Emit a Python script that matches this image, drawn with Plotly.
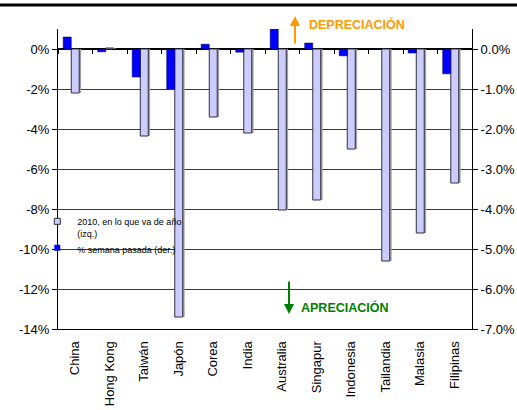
import plotly.graph_objects as go

# Asian currencies vs USD
countries = ["China", "Hong Kong", "Taiwán", "Japón", "Corea", "India",
             "Australia", "Singapur", "Indonesia", "Tailandia", "Malasia", "Filipinas"]
# 2010 year-to-date change, % (left axis)
ytd_2010 = [-2.2, 0.05, -4.35, -13.4, -3.4, -4.2, -8.05, -7.55, -5.0, -10.6, -9.2, -6.7]
# change over the last week, % (right axis)
last_week = [0.3, -0.07, -0.7, -1.0, 0.12, -0.08, 0.52, 0.15, -0.17, 0.0, -0.1, -0.62]

left_ticks = [0, -2, -4, -6, -8, -10, -12, -14]
left_text = [f"{v}%" for v in left_ticks]
right_ticks = [0.0, -1.0, -2.0, -3.0, -4.0, -5.0, -6.0, -7.0]
right_text = [f"{v:.1f}%" for v in right_ticks]

FONT = "Liberation Sans, Arial, sans-serif"
LIGHT = "#CCCCFF"
DARK = "#0000FF"

fig = go.Figure()

# soft shadow behind the YTD bars
fig.add_trace(go.Bar(
    x=countries, y=ytd_2010, yaxis="y", width=0.23, offset=-0.06,
    marker=dict(color="#A0A0A0", line=dict(width=0)),
    showlegend=False, hoverinfo="skip"))

fig.add_trace(go.Bar(
    x=countries, y=ytd_2010, yaxis="y", width=0.23, offset=-0.115,
    marker=dict(color=LIGHT, line=dict(color="#303040", width=1)),
    showlegend=False))

fig.add_trace(go.Bar(
    x=countries, y=last_week, yaxis="y2", width=0.235, offset=-0.35,
    marker=dict(color=DARK, line=dict(color="#000040", width=0.5)),
    showlegend=False))

# legend swatches
fig.add_trace(go.Scatter(
    x=[None], y=[None], mode="markers", name="2010, en lo que va de año<br>(izq.)",
    marker=dict(symbol="square", size=6, color=LIGHT, line=dict(color="#303040", width=1))))
fig.add_trace(go.Scatter(
    x=[None], y=[None], mode="markers", name="% semana pasada (der.)",
    marker=dict(symbol="square", size=6, color=DARK, line=dict(width=0))))

# boundary tick marks along the zero line
fig.add_trace(go.Scatter(
    x=countries, y=[None] * len(countries), xaxis="x2", yaxis="y",
    mode="markers", showlegend=False, hoverinfo="skip"))

zero_pos = (0 - (-14)) / (1 - (-14))

fig.update_layout(
    width=517, height=410,
    margin=dict(l=58, r=45, t=29, b=81, autoexpand=False),
    paper_bgcolor="white", plot_bgcolor="white",
    barmode="overlay",
    font=dict(family=FONT, size=13, color="black"),
    xaxis=dict(
        type="category", categoryarray=countries, range=[-0.5, 11.5],
        tickangle=-90, ticks="outside", ticklen=6, tickcolor="rgba(0,0,0,0)",
        showline=True, linecolor="black", linewidth=1, automargin=False,
        showgrid=False, zeroline=False, mirror=False,
        tickfont=dict(family=FONT, size=13)),
    xaxis2=dict(
        type="category", categoryarray=countries, range=[-0.5, 11.5],
        overlaying="x", anchor="free", position=zero_pos, automargin=False,
        showticklabels=False, ticks="outside", ticklen=4, tickcolor="black",
        tickson="boundaries", showline=False, showgrid=False, zeroline=False),
    yaxis=dict(
        range=[-14, 1], tickvals=left_ticks, ticktext=left_text,
        showline=True, linecolor="black", linewidth=1, automargin=False,
        ticks="outside", ticklen=5, tickcolor="black",
        showgrid=True, gridcolor="#3a3a3a", gridwidth=1,
        zeroline=True, zerolinecolor="black", zerolinewidth=1.5,
        tickfont=dict(family=FONT, size=13)),
    yaxis2=dict(
        range=[-7, 0.5], tickvals=right_ticks, ticktext=right_text,
        overlaying="y", side="right", anchor="x", automargin=False,
        showline=True, linecolor="black", linewidth=1,
        ticks="outside", ticklen=5, tickcolor="black",
        showgrid=False, zeroline=False,
        tickfont=dict(family=FONT, size=13)),
    legend=dict(
        x=-0.05, y=0.40, xanchor="left", yanchor="top",
        bgcolor="rgba(0,0,0,0)", borderwidth=0,
        font=dict(family=FONT, size=9), itemwidth=30,
        valign="top", tracegroupgap=0),
    showlegend=True,
)


def px_x(x):
    return (x - 58) / 414


def px_y(y):
    return (329 - y) / 300


# frame line across the top of the chart
fig.add_shape(type="line", xref="paper", yref="paper",
              x0=px_x(0), x1=px_x(517), y0=px_y(5), y1=px_y(5),
              line=dict(color="black", width=3))

# direction labels
fig.add_annotation(xref="paper", yref="paper", x=px_x(295), y=px_y(16),
                   ax=0, ay=29, axref="pixel", ayref="pixel",
                   text="", showarrow=True, arrowhead=2, arrowsize=1,
                   arrowwidth=2, arrowcolor="#FF9900")
fig.add_annotation(xref="paper", yref="paper", x=px_x(307), y=px_y(25),
                   xanchor="left", yanchor="middle", showarrow=False,
                   text="<b>DEPRECIACIÓN</b>",
                   font=dict(family=FONT, size=12.5, color="#FF9900"))
fig.add_annotation(xref="paper", yref="paper", x=px_x(289), y=px_y(314),
                   ax=0, ay=-34, axref="pixel", ayref="pixel",
                   text="", showarrow=True, arrowhead=2, arrowsize=1,
                   arrowwidth=2, arrowcolor="#008000")
fig.add_annotation(xref="paper", yref="paper", x=px_x(299), y=px_y(307),
                   xanchor="left", yanchor="middle", showarrow=False,
                   text="<b>APRECIACIÓN</b>",
                   font=dict(family=FONT, size=12.5, color="#008000"))

fig.write_html("out.html")
